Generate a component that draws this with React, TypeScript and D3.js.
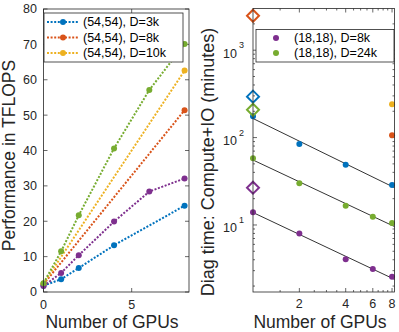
import React from "react";
import * as d3 from "d3";

// left panel: performance vs GPUs
const gpusA = [0, 1, 2, 4, 8];
const perf3k = [1.8, 3.6, 6.8, 13.2, 24.4];
const gpusEnds = [0, 8];
const perf8k = [2.2, 51.4];
const perf10k = [2.4, 62.6];
const gpusB = [0, 1, 2, 4, 6, 8];
const perfP = [1.7, 5.4, 10.4, 19.9, 28.4, 32.1];
const perfG = [2.5, 11.5, 21.7, 40.6, 57.1, 70.1];
const leftLegend = ["(54,54), D=3k", "(54,54), D=8k", "(54,54), D=10k"];
const leftYTicks = [0, 10, 20, 30, 40, 50, 60, 70, 80];
const leftXTicks = [0, 5];

// right panel: diag time vs GPUs (log-log)
const gpusBlue = [1, 2, 4, 8];
const timeBlue = [175, 84.5, 49, 28.7];
const gpusPG = [1, 2, 4, 6, 8];
const timeGreen = [58, 30, 16.6, 12.4, 10.5];
const timePurple = [14, 8.0, 4.05, 3.14, 2.56];
const timeYellow8 = 240;
const timeOrange8 = 106;
// single-run diamonds at 1 GPU
const diamondTimes = [2480, 294, 208, 26.7];
const rightLegend = ["(18,18), D=8k", "(18,18), D=24k"];
const rightXTicks = [2, 4, 6, 8];
const rightYTicks = [10, 100, 1000];

const C = {
  blue: "#0072BD",
  orange: "#D95319",
  yellow: "#EDB120",
  purple: "#7E2F8E",
  green: "#77AC30",
};
const diamondColors = [C.orange, C.blue, C.green, C.purple];
const AX = "#262626";
const FONT = "'Liberation Sans', Arial, Helvetica, sans-serif";

const W = 399;
const H = 332;

const xL = d3.scaleLinear().domain([0, 8.25]).range([43.5, 189]);
const yL = d3.scaleLinear().domain([0, 80]).range([292, 9]);
const xR = d3.scaleLog().domain([1, 8.3]).range([253, 394.5]);
const yR = d3.scaleLog().domain([1.71, 3000]).range([292, 8.5]);

// least squares fit in log-log space
function fitLog(xs: number[], ys: number[]) {
  const lx = xs.map(Math.log);
  const ly = ys.map(Math.log);
  const mx = d3.mean(lx)!;
  const my = d3.mean(ly)!;
  let num = 0;
  let den = 0;
  lx.forEach((v, i) => {
    num += (v - mx) * (ly[i] - my);
    den += (v - mx) * (v - mx);
  });
  const b = num / den;
  const a = my - b * mx;
  return (x: number) => Math.exp(a + b * Math.log(x));
}

const dotted = { strokeDasharray: "2 1.6", strokeWidth: 2, fill: "none" };

function DottedSeries({ xs, ys, color }: { xs: number[]; ys: number[]; color: string }) {
  const line = d3
    .line<number>()
    .x((_, i) => xL(xs[i]))
    .y((d) => yL(d));
  return (
    <g>
      <path d={line(ys) || ""} stroke={color} {...dotted} />
      {ys.map((v, i) => (
        <circle key={i} cx={xL(xs[i])} cy={yL(v)} r={3} fill={color} />
      ))}
    </g>
  );
}

function diamond(cx: number, cy: number, r: number) {
  return `M${cx},${cy - r}L${cx + r},${cy}L${cx},${cy + r}L${cx - r},${cy}Z`;
}

export default function App() {
  const [lx0, lx1] = xL.range();
  const [ly0, ly1] = yL.range();
  const [rx0, rx1] = xR.range();
  const [ry0, ry1] = yR.range();

  const minorY: number[] = [];
  [1, 10, 100, 1000].forEach((dec) => {
    for (let k = 2; k <= 9; k++) {
      const v = dec * k;
      if (v > 1.71 && v < 3000) minorY.push(v);
    }
  });
  const minorX: number[] = d3.range(1.5, 8.3, 0.5).filter((v) => !rightXTicks.includes(v));

  const fits = [
    { xs: gpusBlue, ys: timeBlue },
    { xs: gpusPG, ys: timeGreen },
    { xs: gpusPG, ys: timePurple },
  ].map((s) => fitLog(s.xs, s.ys));

  const leftColors = [C.blue, C.orange, C.yellow];

  return (
    <svg
      width={W}
      height={H}
      style={{ position: "absolute", left: 0, top: 0, background: "#fff" }}
      fontFamily={FONT}
    >
      {/* ---------- left panel ---------- */}
      <g>
        {leftYTicks.map((t) => (
          <g key={t}>
            <line x1={lx0} x2={lx0 + 4} y1={yL(t)} y2={yL(t)} stroke={AX} strokeWidth={0.7} />
            <line x1={lx1} x2={lx1 - 4} y1={yL(t)} y2={yL(t)} stroke={AX} strokeWidth={0.7} />
            <text x={37} y={yL(t)} dy="0.35em" textAnchor="end" fontSize={12.5} fill={AX}>
              {t}
            </text>
          </g>
        ))}
        {leftXTicks.map((t) => (
          <g key={t}>
            <line x1={xL(t)} x2={xL(t)} y1={ly0} y2={ly0 - 4} stroke={AX} strokeWidth={0.7} />
            <line x1={xL(t)} x2={xL(t)} y1={ly1} y2={ly1 + 4} stroke={AX} strokeWidth={0.7} />
            <text x={xL(t)} y={305} dy="0.35em" textAnchor="middle" fontSize={12.5} fill={AX}>
              {t}
            </text>
          </g>
        ))}

        <DottedSeries xs={gpusA} ys={perf3k} color={C.blue} />
        <DottedSeries xs={gpusEnds} ys={perf8k} color={C.orange} />
        <DottedSeries xs={gpusEnds} ys={perf10k} color={C.yellow} />
        <DottedSeries xs={gpusB} ys={perfP} color={C.purple} />
        <DottedSeries xs={gpusB} ys={perfG} color={C.green} />

        <rect
          x={lx0}
          y={ly1}
          width={lx1 - lx0}
          height={ly0 - ly1}
          fill="none"
          stroke={AX}
          strokeWidth={0.8}
        />

        {/* legend */}
        <rect x={44} y={13} width={139} height={49} fill="#fff" stroke={AX} strokeWidth={0.8} />
        {leftLegend.map((name, i) => {
          const y = 22 + i * 15.5;
          return (
            <g key={name}>
              <line x1={47} x2={79} y1={y} y2={y} stroke={leftColors[i]} {...dotted} />
              <circle cx={63} cy={y} r={3} fill={leftColors[i]} />
              <text x={83} y={y} dy="0.35em" fontSize={12.5} fill="#000">
                {name}
              </text>
            </g>
          );
        })}

        <text x={112} y={327.5} textAnchor="middle" fontSize={17.5} fill={AX}>
          Number of GPUs
        </text>
        <text
          transform={`translate(14.5,${(ly0 + ly1) / 2 + 5}) rotate(-90)`}
          textAnchor="middle"
          fontSize={17.5}
          fill={AX}
        >
          Performance in TFLOPS
        </text>
      </g>

      {/* ---------- right panel ---------- */}
      <g>
        {rightYTicks.map((t) => (
          <g key={t}>
            <line x1={rx0} x2={rx0 + 4} y1={yR(t)} y2={yR(t)} stroke={AX} strokeWidth={0.7} />
            <line x1={rx1} x2={rx1 - 4} y1={yR(t)} y2={yR(t)} stroke={AX} strokeWidth={0.7} />
            <text x={237} y={yR(t) + 3} dy="0.35em" textAnchor="end" fontSize={12.5} fill={AX}>
              10
            </text>
            <text x={239} y={yR(t) - 2} fontSize={9} fill={AX}>
              {Math.round(Math.log10(t))}
            </text>
          </g>
        ))}
        {minorY.map((t) => (
          <g key={t}>
            <line x1={rx0} x2={rx0 + 2} y1={yR(t)} y2={yR(t)} stroke={AX} strokeWidth={0.7} />
            <line x1={rx1} x2={rx1 - 2} y1={yR(t)} y2={yR(t)} stroke={AX} strokeWidth={0.7} />
          </g>
        ))}
        {rightXTicks.map((t) => (
          <g key={t}>
            <line x1={xR(t)} x2={xR(t)} y1={ry0} y2={ry0 - 4} stroke={AX} strokeWidth={0.7} />
            <line x1={xR(t)} x2={xR(t)} y1={ry1} y2={ry1 + 4} stroke={AX} strokeWidth={0.7} />
            <text x={xR(t)} y={304} dy="0.35em" textAnchor="middle" fontSize={12.5} fill={AX}>
              {t}
            </text>
          </g>
        ))}
        {minorX.map((t) => (
          <g key={t}>
            <line x1={xR(t)} x2={xR(t)} y1={ry0} y2={ry0 - 2} stroke={AX} strokeWidth={0.7} />
            <line x1={xR(t)} x2={xR(t)} y1={ry1} y2={ry1 + 2} stroke={AX} strokeWidth={0.7} />
          </g>
        ))}

        {/* fitted lines */}
        {fits.map((f, i) => (
          <line
            key={i}
            x1={xR(1)}
            y1={yR(f(1))}
            x2={xR(8.3)}
            y2={yR(f(8.3))}
            stroke="#000"
            strokeWidth={0.8}
          />
        ))}

        {gpusBlue.map((g, i) => (
          <circle key={"b" + i} cx={xR(g)} cy={yR(timeBlue[i])} r={3} fill={C.blue} />
        ))}
        {gpusPG.map((g, i) => (
          <circle key={"g" + i} cx={xR(g)} cy={yR(timeGreen[i])} r={3} fill={C.green} />
        ))}
        {gpusPG.map((g, i) => (
          <circle key={"p" + i} cx={xR(g)} cy={yR(timePurple[i])} r={3} fill={C.purple} />
        ))}
        <circle cx={xR(8)} cy={yR(timeYellow8)} r={3} fill={C.yellow} />
        <circle cx={xR(8)} cy={yR(timeOrange8)} r={3} fill={C.orange} />

        {diamondTimes.map((t, i) => (
          <path
            key={"d" + i}
            d={diamond(xR(1), yR(t), 6)}
            fill="none"
            stroke={diamondColors[i]}
            strokeWidth={2}
          />
        ))}

        <rect
          x={rx0}
          y={ry1}
          width={rx1 - rx0}
          height={ry0 - ry1}
          fill="none"
          stroke={AX}
          strokeWidth={0.8}
        />

        {/* legend */}
        <rect x={256} y={29.5} width={138} height={32.5} fill="#fff" stroke={AX} strokeWidth={0.8} />
        {rightLegend.map((name, i) => {
          const y = 38 + i * 15;
          const col = i === 0 ? C.purple : C.green;
          return (
            <g key={name}>
              <circle cx={276} cy={y} r={3} fill={col} />
              <text x={294} y={y} dy="0.35em" fontSize={12.5} fill="#000">
                {name}
              </text>
            </g>
          );
        })}

        <text x={320} y={327.5} textAnchor="middle" fontSize={17.5} fill={AX}>
          Number of GPUs
        </text>
        <text
          transform={`translate(214,162) rotate(-90)`}
          textAnchor="middle"
          fontSize={18}
          fill={AX}
        >
          Diag time: Compute+IO (minutes)
        </text>
      </g>
    </svg>
  );
}
